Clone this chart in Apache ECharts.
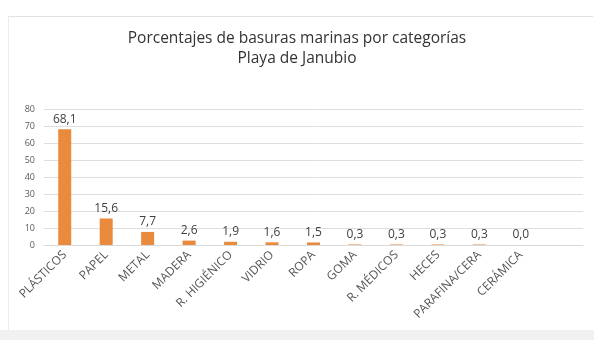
<!DOCTYPE html>
<html>
<head>
<meta charset="utf-8">
<script src="https://cdn.jsdelivr.net/npm/echarts@6/dist/echarts.min.js"></script>
<style>
  html, body { margin: 0; padding: 0; background: #ffffff; }
  #wrap { position: relative; width: 594px; height: 340px; overflow: hidden; background: #ffffff; }
  #panel { position: absolute; left: 8px; top: 16px; width: 584px; height: 314px; border-top: 1px solid #e2e2e2; border-left: 1px solid #ececec; background: #ffffff; }
  #strip { position: absolute; left: 0; top: 330px; width: 594px; height: 10px; background: #f1f1f1; }
  #main { position: absolute; left: 0; top: 0; width: 594px; height: 340px; }
</style>
</head>
<body>
<div id="wrap">
  <div id="panel"></div>
  <div id="strip"></div>
  <div id="main"></div>
</div>
<script>
const titleText = 'Porcentajes de basuras marinas por categorías';
const subtitleText = 'Playa de Janubio';
const categories = ['PLÁSTICOS', 'PAPEL', 'METAL', 'MADERA', 'R. HIGIÉNICO', 'VIDRIO', 'ROPA', 'GOMA', 'R. MÉDICOS', 'HECES', 'PARAFINA/CERA', 'CERÁMICA'];
const values = [68.1, 15.6, 7.7, 2.6, 1.9, 1.6, 1.5, 0.3, 0.3, 0.3, 0.3, 0.0];
const yTicks = [0, 10, 20, 30, 40, 50, 60, 70, 80];

const chart = echarts.init(document.getElementById('main'), null, { renderer: 'canvas' });
const fmt = v => v.toFixed(1).replace('.', ',');

chart.setOption({
  animation: false,
  backgroundColor: 'transparent',
  title: [
    { text: titleText, left: 'center', top: 26, textStyle: { fontFamily: 'Open Sans', fontSize: 15.5, fontWeight: 'normal', color: '#333333' } },
    { text: subtitleText, left: 'center', top: 46, textStyle: { fontFamily: 'Open Sans', fontSize: 15.5, fontWeight: 'normal', color: '#333333' } }
  ],
  grid: { left: 44, right: 11, top: 109, bottom: 95, containLabel: false },
  xAxis: {
    type: 'category',
    data: categories,
    max: categories.length,
    axisLine: { show: true, lineStyle: { color: '#d9d9d9' } },
    axisTick: { show: false },
    axisLabel: {
      rotate: 45,
      interval: 0,
      margin: 8,
      fontFamily: 'Open Sans',
      fontSize: 12,
      color: '#555555'
    }
  },
  yAxis: {
    type: 'value',
    min: 0,
    max: yTicks[yTicks.length - 1],
    interval: 10,
    axisLine: { show: false },
    axisTick: { show: false },
    splitLine: { lineStyle: { color: '#dedede', width: 1 } },
    axisLabel: {
      margin: 9,
      fontFamily: 'Open Sans',
      fontSize: 9,
      color: '#595959'
    }
  },
  series: [{
    type: 'bar',
    data: values,
    barWidth: 13,
    itemStyle: { color: '#E98A3C' },
    label: {
      show: true,
      position: 'top',
      distance: 4,
      formatter: p => fmt(p.value),
      fontFamily: 'Open Sans',
      fontSize: 12,
      color: '#404040'
    }
  }]
});
</script>
</body>
</html>
